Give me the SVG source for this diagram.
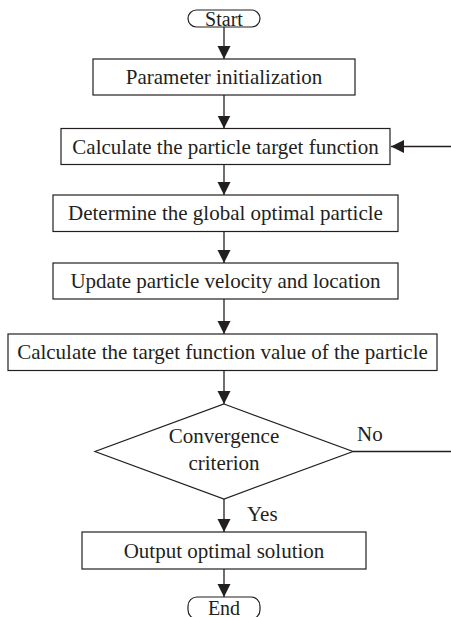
<svg xmlns="http://www.w3.org/2000/svg" width="451" height="617" viewBox="0 0 451 617">
  <defs>
    <marker id="arrow" markerUnits="userSpaceOnUse" markerWidth="14" markerHeight="14" refX="13" refY="6.5" orient="auto">
      <path d="M0,0 L13,6.5 L0,13 z" fill="#231f20"/>
    </marker>
    <style>
      .box { fill: #ffffff; stroke: #231f20; stroke-width: 1.2; }
      .edge { fill: none; stroke: #231f20; stroke-width: 1.3; }
      .lbl { font-family: "Liberation Serif", "Times New Roman", serif; font-size: 21px; fill: #231f20; text-anchor: middle; }
      .tag { font-family: "Liberation Serif", "Times New Roman", serif; font-size: 21px; fill: #231f20; }
    </style>
  </defs>
  <rect width="451" height="617" fill="#ffffff"/>

  <!-- connectors -->
  <g id="connectors">
    <line class="edge" x1="224" y1="27" x2="224" y2="59" marker-end="url(#arrow)"/>
    <line class="edge" x1="224" y1="95" x2="224" y2="128.5" marker-end="url(#arrow)"/>
    <line class="edge" x1="451" y1="146.5" x2="391" y2="146.5" marker-end="url(#arrow)"/>
    <line class="edge" x1="224" y1="164.5" x2="224" y2="195" marker-end="url(#arrow)"/>
    <line class="edge" x1="224" y1="231.5" x2="224" y2="263" marker-end="url(#arrow)"/>
    <line class="edge" x1="224" y1="299" x2="224" y2="334" marker-end="url(#arrow)"/>
    <line class="edge" x1="224" y1="370.5" x2="224" y2="404" marker-end="url(#arrow)"/>
    <line class="edge" x1="353" y1="451.5" x2="451" y2="451.5"/>
    <line class="edge" x1="224" y1="499" x2="224" y2="532" marker-end="url(#arrow)"/>
    <line class="edge" x1="224" y1="569" x2="224" y2="597" marker-end="url(#arrow)"/>
    <text class="tag" x="357" y="441">No</text>
    <text class="tag" x="247" y="521">Yes</text>
  </g>

  <!-- nodes -->
  <g id="start">
    <rect class="box" x="188" y="10" width="72" height="17" rx="8.5"/>
    <text class="lbl" x="224" y="25.5" style="font-size:20px">Start</text>
  </g>
  <g id="init">
    <rect class="box" x="93" y="59" width="262" height="36"/>
    <text class="lbl" x="224" y="84">Parameter initialization</text>
  </g>
  <g id="target">
    <rect class="box" x="61" y="128.5" width="329" height="36"/>
    <text class="lbl" x="225.5" y="153.5">Calculate the particle target function</text>
  </g>
  <g id="global">
    <rect class="box" x="53" y="195" width="345" height="36.5"/>
    <text class="lbl" x="225.5" y="220">Determine the global optimal particle</text>
  </g>
  <g id="update">
    <rect class="box" x="53" y="263" width="345" height="36"/>
    <text class="lbl" x="225.5" y="288">Update particle velocity and location</text>
  </g>
  <g id="value">
    <rect class="box" x="8" y="334" width="429" height="36.5"/>
    <text class="lbl" x="222.5" y="359">Calculate the target function value of the particle</text>
  </g>
  <g id="criterion">
    <polygon class="box" points="224,404 353,451.5 224,499 95,451.5"/>
    <text class="lbl" x="224" y="443">Convergence</text>
    <text class="lbl" x="224" y="470">criterion</text>
  </g>
  <g id="output">
    <rect class="box" x="82" y="532" width="284" height="37"/>
    <text class="lbl" x="224" y="557.5">Output optimal solution</text>
  </g>
  <g id="end">
    <rect class="box" x="188" y="597" width="72" height="22" rx="9"/>
    <text class="lbl" x="224" y="614.5" style="font-size:20px">End</text>
  </g>
</svg>
